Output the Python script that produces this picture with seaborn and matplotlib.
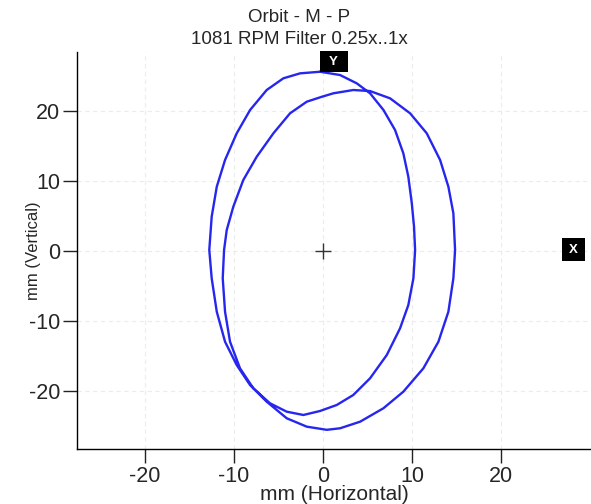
import matplotlib
matplotlib.use("Agg")
import matplotlib.pyplot as plt
import seaborn as sns
import pandas as pd
from matplotlib.patches import Rectangle

# Orbit path (mm): one continuous double loop
orbit_x = [-0.34, 1.91, 3.79, 5.28, 6.79, 8.09, 9.02, 9.58, 9.97, 10.22, 10.34, 10.15,
           9.58, 8.65, 7.16, 5.28, 3.40, 1.54, -0.34, -2.21, -4.08, -5.96, -7.83, -9.33,
           -10.45, -11.01, -11.27, -11.12, -10.82, -10.08, -8.96, -7.45, -5.58, -3.71,
           -1.83, -0.22, 1.16, 3.40, 5.28, 7.53, 9.78, 11.65, 13.15, 14.08, 14.64, 14.83,
           14.64, 14.08, 12.96, 11.27, 9.02, 6.78, 4.16, 1.91, 0.42, -1.83, -4.08, -6.33,
           -8.20, -9.70, -11.01, -11.94, -12.51, -12.78, -12.51, -11.94, -11.01, -9.70,
           -8.20, -6.33, -4.46, -2.58, -0.34]
orbit_y = [25.57, 25.10, 23.91, 22.49, 20.10, 17.24, 13.91, 10.57, 6.77, 3.43, 0.10, -3.94,
           -7.76, -11.09, -14.90, -18.23, -20.61, -22.04, -22.90, -23.47, -23.0, -21.80,
           -19.66, -16.80, -13.0, -8.71, -3.94, 0.10, 2.96, 6.29, 10.10, 13.43, 16.77,
           19.63, 21.29, 21.96, 22.49, 22.96, 22.81, 21.77, 19.63, 16.77, 12.96, 9.14,
           5.34, 0.10, -3.94, -8.71, -13.0, -16.80, -20.14, -22.51, -24.43, -25.37, -25.59,
           -25.14, -23.94, -21.57, -19.19, -16.33, -13.0, -8.71, -3.94, 0.10, 4.86, 9.14,
           12.96, 16.77, 20.10, 22.96, 24.63, 25.34, 25.57]

x_ticks = [-20, -10, 0, 10, 20]
y_ticks = [-20, -10, 0, 10, 20]
title_lines = ["Orbit - M - P", "1081 RPM Filter 0.25x..1x"]
x_label = "mm (Horizontal)"
y_label = "mm (Vertical)"
probe_labels = ["Y", "X"]

sns.set_style("white")
plt.rcParams["font.family"] = ["Liberation Sans", "DejaVu Sans"]
plt.rcParams["axes.unicode_minus"] = False

fig = plt.figure(figsize=(5.91, 5.04), dpi=100)
ax = fig.add_axes([77 / 591, 55 / 504, 1 - 77 / 591, (449 - 52) / 504])

df = pd.DataFrame({"x": orbit_x, "y": orbit_y})
sns.lineplot(data=df, x="x", y="y", sort=False, estimator=None, ax=ax,
             color="#2626ee", lw=1.7)

ax.set_xlim(-27.64, 30.1)
ax.set_ylim(-28.33, 28.39)
ax.set_xticks(x_ticks)
ax.set_yticks(y_ticks)
ax.grid(True, color="#ececec", lw=0.8, ls=(0, (4, 3)))
for s in ["top", "right"]:
    ax.spines[s].set_visible(False)
for s in ["left", "bottom"]:
    ax.spines[s].set_color("black")
    ax.spines[s].set_linewidth(1.0)
ax.tick_params(axis="both", direction="out", length=10, width=1, color="#222222",
               labelsize=15.5, pad=2, bottom=True, left=True)
ax.set_xlabel(x_label, fontsize=15, labelpad=-1)
ax.set_ylabel(y_label, fontsize=12, labelpad=-9)

# center cross
ax.plot([0], [0], marker="+", ms=11, mew=1.0, color="#333333")

# probe markers
w, h = 28 / 8.9, 21 / 7.0
ax.add_patch(Rectangle((1.18 - w / 2, 27.0 - h / 2), w, h, fc="black", ec="none",
                       clip_on=False, zorder=5))
ax.text(1.18, 27.0, probe_labels[0], color="white", fontsize=9.5, fontweight="bold",
        ha="center", va="center", zorder=6, clip_on=False)
w2, h2 = 23 / 8.9, 23 / 7.0
ax.add_patch(Rectangle((28.15 - w2 / 2, 0.17 - h2 / 2), w2, h2, fc="black", ec="none",
                       clip_on=False, zorder=5))
ax.text(28.15, 0.17, probe_labels[1], color="white", fontsize=9.5, fontweight="bold",
        ha="center", va="center", zorder=6, clip_on=False)

fig.text(299 / 591, 1 - 17 / 504, title_lines[0], ha="center", va="center", fontsize=13.5)
fig.text(299 / 591, 1 - 39 / 504, title_lines[1], ha="center", va="center", fontsize=13.5)

fig.savefig("out.png", dpi=100)
